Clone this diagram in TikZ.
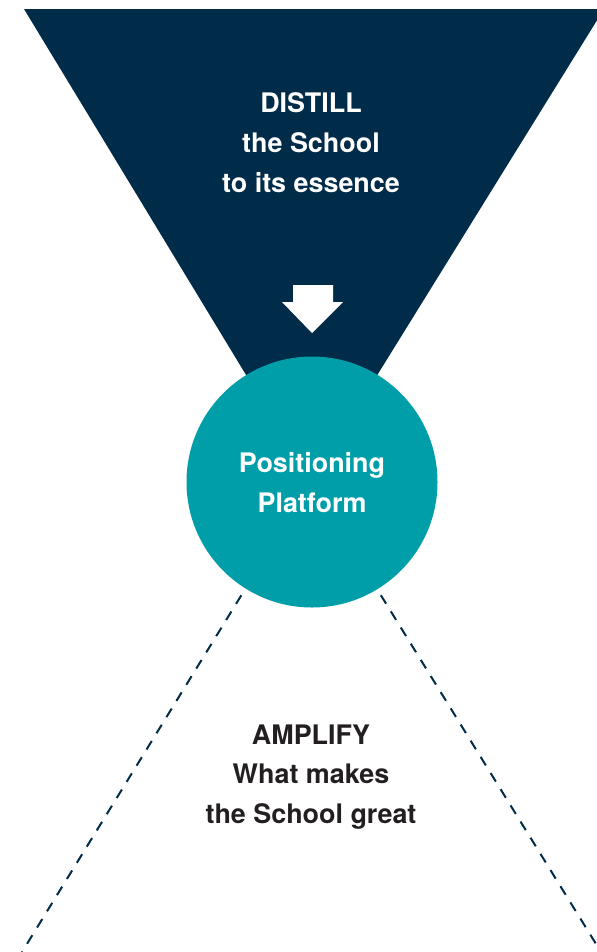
\documentclass[tikz,border=0pt]{standalone}
\usepackage{fontspec}
\setmainfont{TeX Gyre Heros}
\definecolor{navy}{HTML}{002B49}
\definecolor{teal}{HTML}{009EA9}
\definecolor{ink}{HTML}{231F20}
\begin{document}
\begin{tikzpicture}[x=1bp,y=-1bp,
  lbl/.style={font=\fontsize{27}{40}\selectfont\bfseries, align=center},
  dashline/.style={draw=navy, line width=2bp, dash pattern=on 10bp off 9bp}]
\useasboundingbox (0,0) rectangle (597,952);
\clip (0,0) rectangle (597,952);
\coordinate (apex) at (311,482);
\coordinate (tl) at (24,9);
\coordinate (tr) at (604,9);
% dashed lower lines
\coordinate (dl) at (22,952);
\coordinate (dr) at (601,952);
\draw[dashline] (apex) -- (dl);
\draw[dashline] (apex) -- (dr);
% top triangle
\fill[navy] (tl) -- (tr) -- (apex) -- cycle;
% arrow
\fill[white] (293,285) -- (333,285) -- (333,302) -- (343,302) -- (312,333) -- (282,302) -- (293,302) -- cycle;
% circle
\node[circle, fill=teal, minimum size=251bp, inner sep=0pt] (c) at (312,482) {};
\node[lbl, text=white] (distill) at (311,143) {DISTILL\\the School\\to its essence};
\node[lbl, text=white] (pos) at (312,483) {Positioning\\Platform};
\node[lbl, text=ink] (amp) at (311,777) {AMPLIFY\\What makes\\the School great};
\end{tikzpicture}
\end{document}
